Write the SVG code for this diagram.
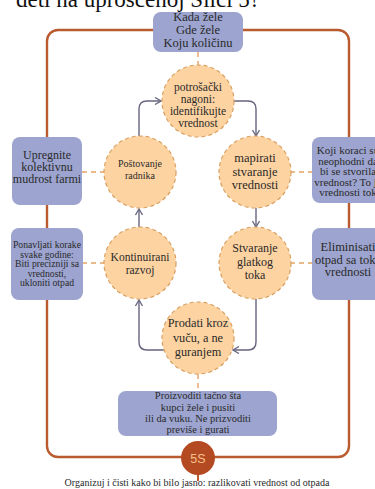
<svg xmlns="http://www.w3.org/2000/svg" width="375" height="489" viewBox="0 0 375 489">
<defs>
<style>
.t{font-family:"Liberation Serif","Times New Roman",serif;fill:#2a2a2a;text-anchor:middle}
.box{fill:#9ca4cf}
.circ{fill:#fdd3a1;stroke:#d9a062;stroke-width:1.2;stroke-dasharray:4 3}
.dash{stroke:#e3a465;stroke-width:1.4;stroke-dasharray:5 4;fill:none}
.arr{stroke:#67657f;stroke-width:1.4;fill:none;marker-end:url(#ah)}
</style>
<marker id="ah" viewBox="0 0 8 8" refX="7" refY="4" markerWidth="8" markerHeight="8" markerUnits="userSpaceOnUse" orient="auto">
<path d="M1,0.5 L7,4 L1,7.5" fill="none" stroke="#67657f" stroke-width="1.3"/>
</marker>
</defs>
<rect width="375" height="489" fill="#ffffff"/>
<text x="138" y="7" class="t" style="font-size:23px;fill:#111">deti na uprošćenoj Slici 5?</text>
<g id="frame">
<rect x="47" y="30" width="302" height="427" rx="11" fill="none" stroke="#b95a2f" stroke-width="2.4"/>
</g>
<g id="connectors">
<path class="dash" d="M198,52 V65"/>
<path class="dash" d="M82,172 H104"/>
<path class="dash" d="M290,172 H312"/>
<path class="dash" d="M82,263 H104"/>
<path class="dash" d="M290,263 H312"/>
<path class="dash" d="M198,374 V391"/>
<path class="arr" d="M139,136 V109 Q139,101 147,101 H161"/>
<path class="arr" d="M233,101 H248 Q256,101 256,109 V136"/>
<path class="arr" d="M256,208 V227"/>
<path class="arr" d="M256,299 V342 Q256,350 248,350 H233"/>
<path class="arr" d="M164,350 H147 Q139,350 139,342 V300"/>
<path class="arr" d="M139,227 V209"/>
<path d="M198,470 V481" stroke="#b95a2f" stroke-width="2"/>
</g>
<g id="top-box">
<rect class="box" x="153" y="12" width="90" height="40" rx="8"/>
<text class="t" x="198" y="21" style="font-size:12.5px">Kada žele</text>
<text class="t" x="198" y="34" style="font-size:12.5px">Gde žele</text>
<text class="t" x="198" y="47" style="font-size:12.5px">Koju količinu</text>
</g>
<g id="box-upregnite">
<rect class="box" x="12" y="137" width="70" height="68" rx="8"/>
<text class="t" x="47" y="159" style="font-size:12px">Upregnite</text>
<text class="t" x="47" y="171" style="font-size:12px">kolektivnu</text>
<text class="t" x="47" y="183" style="font-size:12px">mudrost farmi</text>
</g>
<g id="box-ponavljati">
<rect class="box" x="11" y="228" width="72" height="72" rx="8"/>
<text class="t" x="47" y="248" style="font-size:9.7px">Ponavljati korake</text>
<text class="t" x="47" y="257.5" style="font-size:9.7px">svake godine:</text>
<text class="t" x="47" y="267" style="font-size:9.7px">Biti precizniji sa</text>
<text class="t" x="47" y="276.5" style="font-size:9.7px">vrednosti,</text>
<text class="t" x="47" y="286" style="font-size:9.7px">ukloniti otpad</text>
</g>
<g id="box-koraci">
<rect class="box" x="312" y="137" width="72" height="66" rx="8"/>
<text class="t" x="348" y="154" style="font-size:11px">Koji koraci su</text>
<text class="t" x="348" y="164.5" style="font-size:11px">neophodni da</text>
<text class="t" x="348" y="175" style="font-size:11px">bi se stvorila</text>
<text class="t" x="348" y="185.5" style="font-size:11px">vrednost? To je</text>
<text class="t" x="348" y="196" style="font-size:11px">vrednosti tok</text>
</g>
<g id="box-eliminisati">
<rect class="box" x="312" y="228" width="72" height="72" rx="8"/>
<text class="t" x="348" y="251" style="font-size:12.5px">Eliminisati</text>
<text class="t" x="348" y="263.5" style="font-size:12.5px">otpad sa toka</text>
<text class="t" x="348" y="276" style="font-size:12.5px">vrednosti</text>
</g>
<g id="box-bottom">
<rect class="box" x="118" y="391" width="159" height="45" rx="8"/>
<text class="t" x="198" y="399" style="font-size:10.5px">Proizvoditi tačno šta</text>
<text class="t" x="198" y="410.5" style="font-size:10.5px">kupci žele i pusiti</text>
<text class="t" x="198" y="422" style="font-size:10.5px">ili da vuku. Ne prizvoditi</text>
<text class="t" x="198" y="433" style="font-size:10.5px">previše i gurati</text>
</g>
<g id="c-potrosacki">
<circle class="circ" cx="198" cy="101" r="36"/>
<text class="t" x="198" y="91" style="font-size:11.5px">potrošački</text>
<text class="t" x="198" y="103" style="font-size:11.5px">nagoni:</text>
<text class="t" x="198" y="115" style="font-size:11.5px">identifikujte</text>
<text class="t" x="198" y="127" style="font-size:11.5px">vrednost</text>
</g>
<g id="c-postovanje">
<circle class="circ" cx="140" cy="172" r="36"/>
<text class="t" x="140" y="167" style="font-size:10px">Poštovanje</text>
<text class="t" x="140" y="179" style="font-size:10px">radnika</text>
</g>
<g id="c-mapirati">
<circle class="circ" cx="255" cy="172" r="36"/>
<text class="t" x="255" y="162" style="font-size:12.5px">mapirati</text>
<text class="t" x="255" y="176" style="font-size:12.5px">stvaranje</text>
<text class="t" x="255" y="189" style="font-size:12.5px">vrednosti</text>
</g>
<g id="c-kontinuirani">
<circle class="circ" cx="140" cy="263" r="36"/>
<text class="t" x="140" y="261" style="font-size:11.5px">Kontinuirani</text>
<text class="t" x="140" y="274" style="font-size:11.5px">razvoj</text>
</g>
<g id="c-stvaranje">
<circle class="circ" cx="255" cy="263" r="36"/>
<text class="t" x="255" y="252" style="font-size:12px">Stvaranje</text>
<text class="t" x="255" y="266" style="font-size:12px">glatkog</text>
<text class="t" x="255" y="279" style="font-size:12px">toka</text>
</g>
<g id="c-prodati">
<circle class="circ" cx="198" cy="338" r="36"/>
<text class="t" x="198" y="327" style="font-size:12.3px">Prodati kroz</text>
<text class="t" x="198" y="342" style="font-size:12.3px">vuču, a ne</text>
<text class="t" x="198" y="356" style="font-size:12.3px">guranjem</text>
</g>
<g id="c-5s">
<circle cx="198" cy="458" r="17" fill="#b44a22"/>
<text x="198" y="462.5" text-anchor="middle" style="font-family:'Liberation Sans',Arial,sans-serif;font-size:12.5px;fill:#f6c08c">5S</text>
</g>
<text class="t" x="197" y="486" style="font-size:10px">Organizuj i čisti kako bi bilo jasno: razlikovati vrednost od otpada</text>
</svg>
